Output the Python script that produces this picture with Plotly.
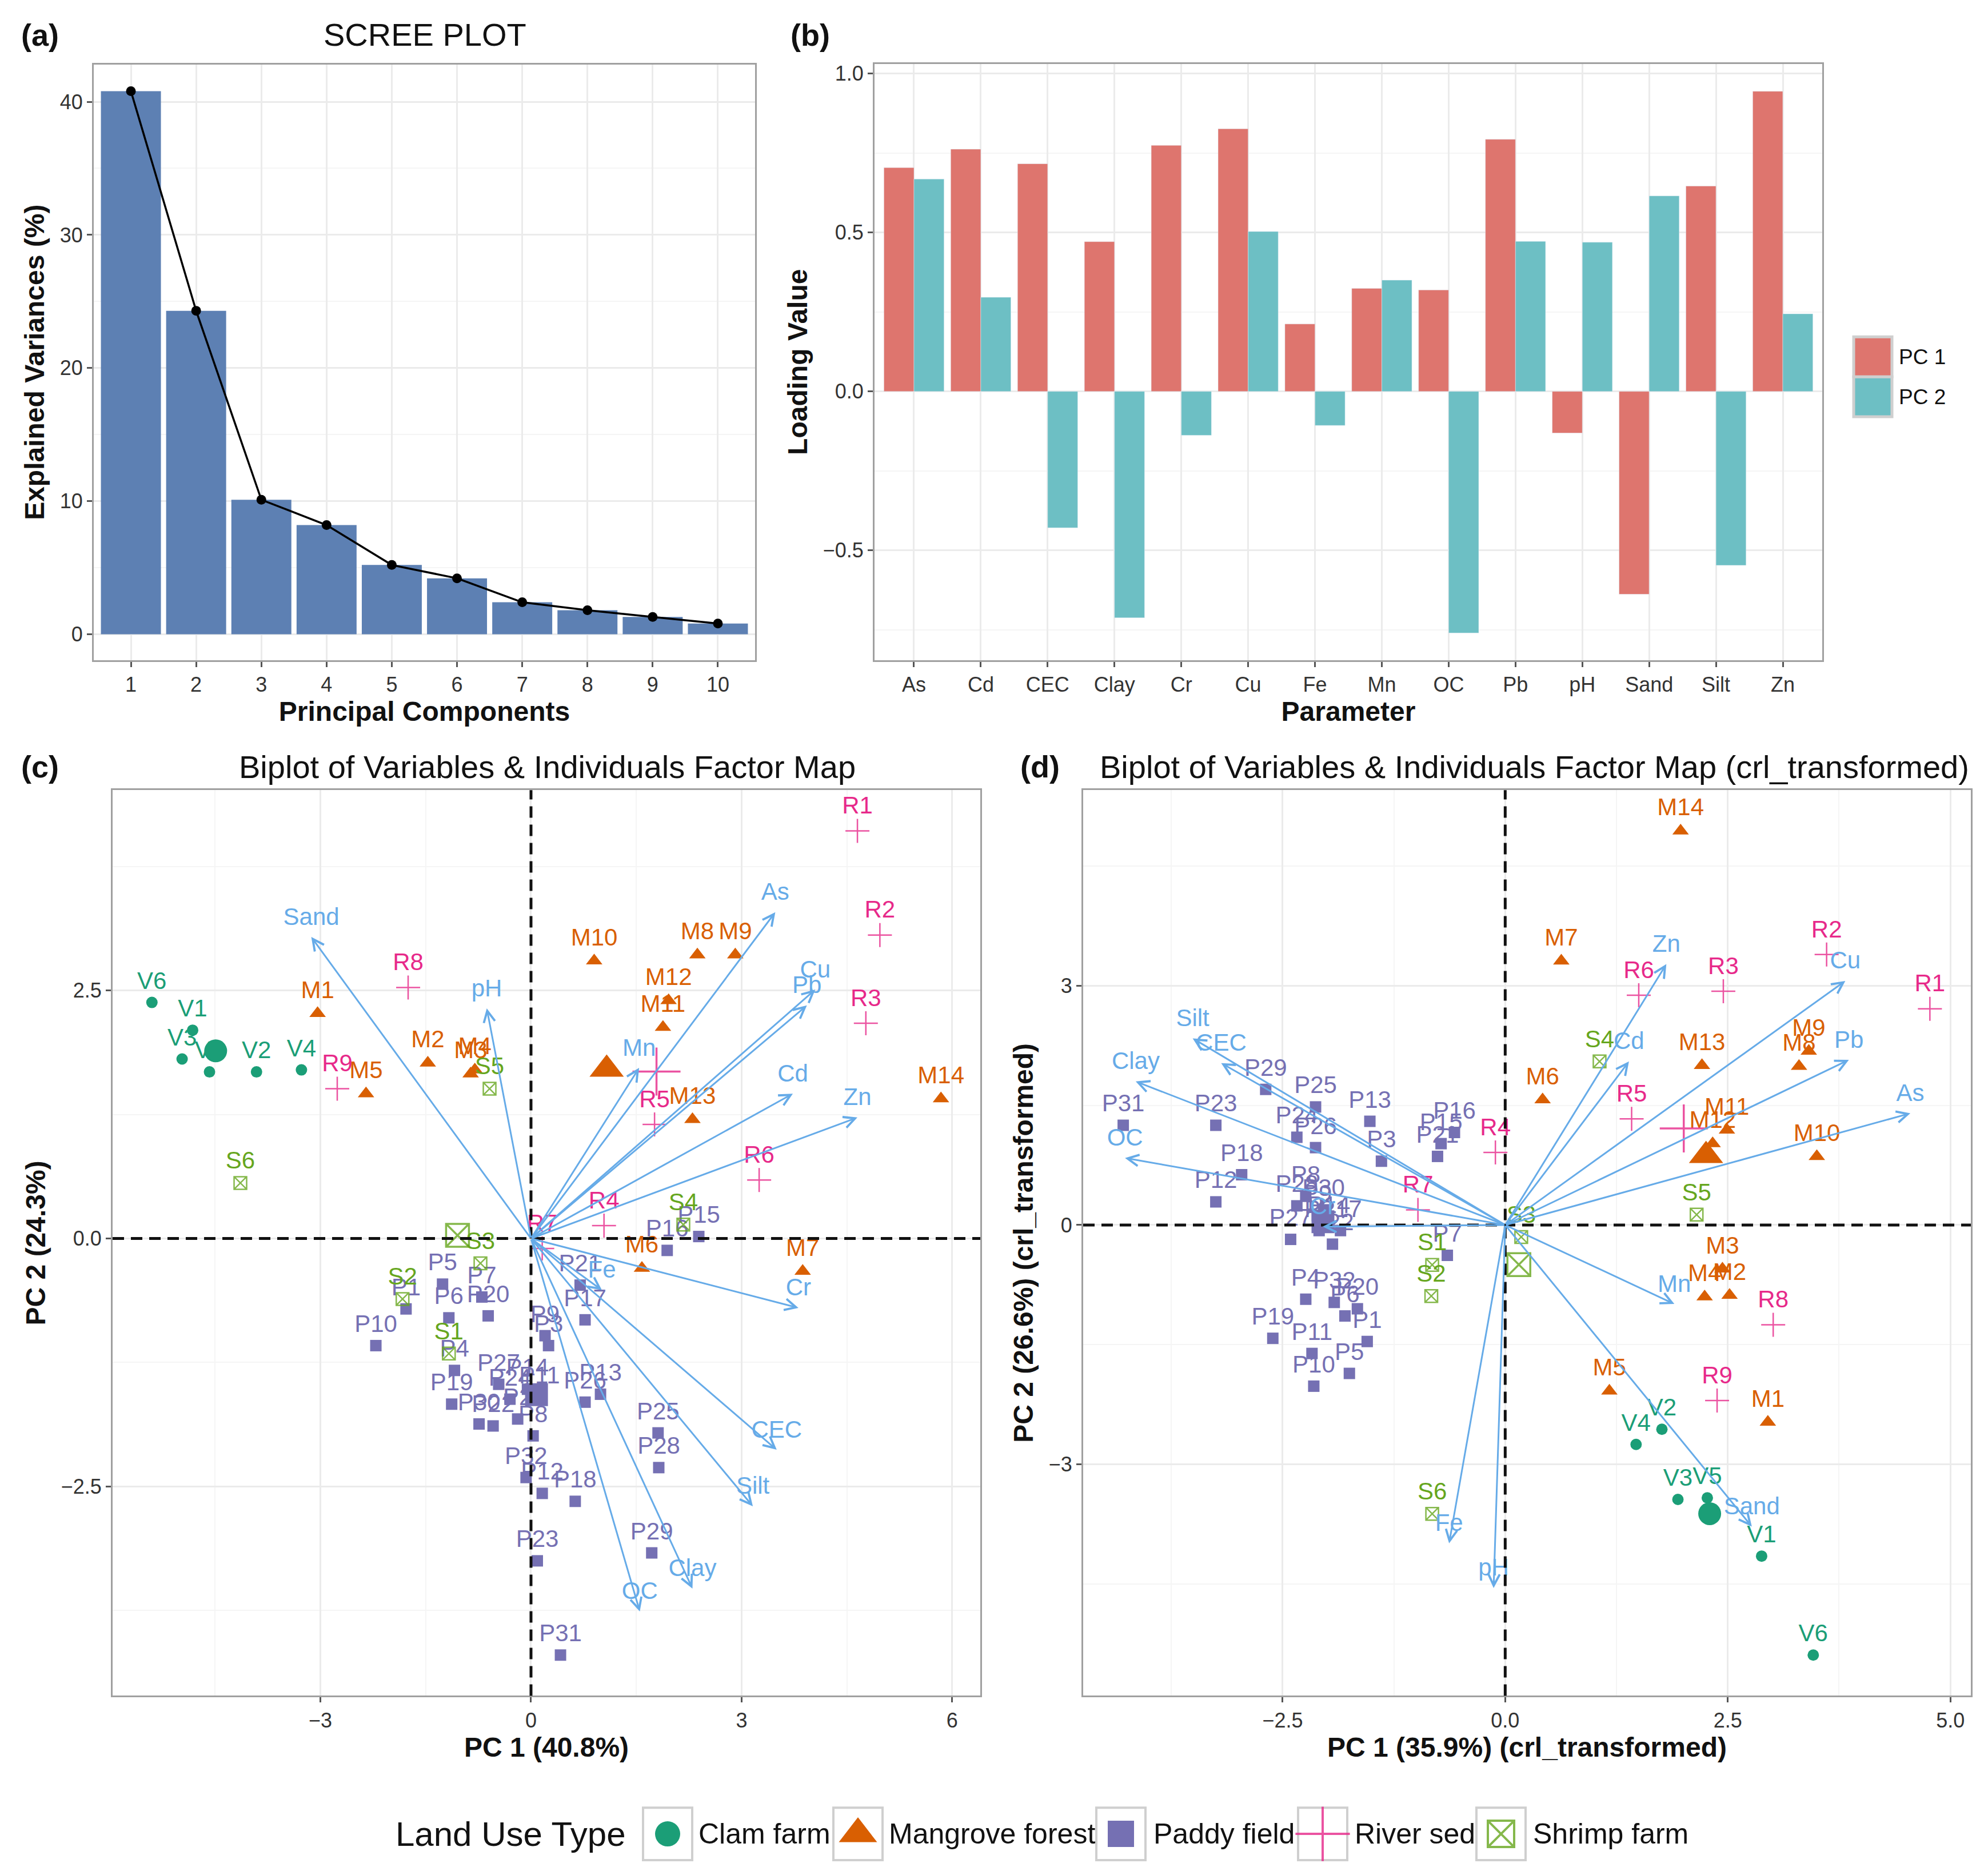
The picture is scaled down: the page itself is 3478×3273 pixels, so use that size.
import numpy as np
import plotly.graph_objects as go

W, H = 3478, 3273
FONT = "Liberation Sans"
BLUE = "#66ABE8"
BORDER = "#a0a0a0"
GRID = "#ebebeb"
GRID_MINOR = "#f5f5f5"
KEY_BORDER = "#cfcfcf"

# (a) scree plot
pc_num = list(range(1, 11))
explained = [40.8, 24.3, 10.1, 8.2, 5.2, 4.2, 2.4, 1.8, 1.3, 0.8]

# (b) loadings
params = ["As", "Cd", "CEC", "Clay", "Cr", "Cu", "Fe", "Mn", "OC", "Pb", "pH", "Sand", "Silt", "Zn"]
load_pc1 = [0.704, 0.762, 0.716, 0.471, 0.774, 0.826, 0.212, 0.324, 0.319, 0.793, -0.131, -0.638, 0.646, 0.944]
load_pc2 = [0.668, 0.296, -0.429, -0.712, -0.138, 0.503, -0.107, 0.350, -0.760, 0.472, 0.469, 0.615, -0.547, 0.244]

# (c) biplot, raw data
arrow_c_x = [3.48, 3.73, 3.50, 2.30, 3.81, 4.05, 1.01, 1.54, 1.55, 3.93, -0.63, -3.13, 3.16, 4.65]
arrow_c_y = [3.29, 1.46, -2.13, -3.53, -0.70, 2.51, -0.52, 1.72, -3.76, 2.35, 2.32, 3.04, -2.70, 1.22]

clam_names = ["V1", "V2", "V3", "V4", "V5", "V6"]
clam_c_x = [-4.82, -3.91, -4.97, -3.27, -4.58, -5.40]
clam_c_y = [2.10, 1.68, 1.81, 1.70, 1.68, 2.38]

mang_names = ["M%d" % i for i in range(1, 15)]
mang_c_x = [-3.04, -1.47, -0.86, -0.80, -2.35, 1.58, 3.87, 2.37, 2.91, 0.90, 1.88, 1.96, 2.30, 5.84]
mang_c_y = [2.27, 1.77, 1.66, 1.70, 1.46, -0.30, -0.33, 2.86, 2.86, 2.80, 2.13, 2.40, 1.20, 1.41]

paddy_names = ["P%d" % i for i in range(1, 33)]
paddy_c_x = [-1.78, -0.19, 0.25, -1.09, -1.26, -1.17, -0.70, 0.03, 0.20, -2.21,
             0.12, 0.16, 0.99, -0.05, 2.39, 1.94, 0.77, 0.63, -1.13, -0.61,
             0.70, -0.54, 0.09, -0.30, 1.81, 0.77, -0.46, 1.82, 1.72, -0.74, 0.42, -0.07]
paddy_c_y = [-0.71, -1.82, -1.08, -1.33, -0.46, -0.80, -0.59, -1.99, -0.98, -1.08,
             -1.60, -2.57, -1.57, -1.52, 0.02, -0.12, -0.82, -2.65, -1.67, -0.78,
             -0.47, -1.89, -3.25, -1.62, -1.96, -1.65, -1.47, -2.31, -3.17, -1.87, -4.20, -2.41]

river_names = ["R%d" % i for i in range(1, 10)]
river_c_x = [4.65, 4.97, 4.77, 1.04, 1.76, 3.25, 0.16, -1.75, -2.76]
river_c_y = [4.11, 3.06, 2.17, 0.13, 1.15, 0.59, -0.10, 2.53, 1.51]

shrimp_names = ["S1", "S2", "S3", "S4", "S5", "S6"]
shrimp_c_x = [-1.17, -1.83, -0.72, 2.17, -0.59, -4.14]
shrimp_c_y = [-1.16, -0.61, -0.25, 0.14, 1.51, 0.56]

# (d) biplot, crl transformed
arrow_d_x = [4.55, 1.39, -3.19, -4.15, -2.05, 3.82, -0.63, 1.90, -4.27, 3.86, -0.13, 2.77, -3.51, 1.81]
arrow_d_y = [1.40, 2.05, 2.03, 1.80, -0.02, 3.06, -3.99, -0.99, 0.84, 2.07, -4.55, -3.78, 2.34, 3.27]

clam_d_x = [2.88, 1.76, 1.94, 1.47, 2.27, 3.46]
clam_d_y = [-4.15, -2.56, -3.44, -2.75, -3.42, -5.39]

mang_d_x = [2.95, 2.52, 2.44, 2.24, 1.17, 0.42, 0.63, 3.30, 3.41, 3.50, 2.49, 2.33, 2.21, 1.97]
mang_d_y = [-2.47, -0.88, -0.55, -0.90, -2.08, 1.57, 3.31, 1.99, 2.18, 0.86, 1.19, 1.02, 2.00, 4.94]

paddy_d_x = [-1.55, -2.09, -1.39, -2.24, -1.75, -1.80, -0.65, -2.24, -2.11, -2.15,
             -2.17, -3.25, -1.52, -1.98, -0.72, -0.57, -1.85, -2.96, -2.61, -1.66,
             -0.76, -1.94, -3.25, -2.34, -2.13, -2.13, -2.41, -2.34, -2.69, -2.04, -4.29, -1.92]
paddy_d_y = [-1.46, -0.07, 0.80, -0.93, -1.86, -1.14, -0.38, 0.36, 0.12, -2.02,
             -1.61, 0.29, 1.30, -0.02, 1.02, 1.16, -0.07, 0.63, -1.42, -1.05,
             0.86, -0.24, 1.25, 1.10, 1.48, 0.97, -0.18, 0.24, 1.70, 0.19, 1.25, -0.97]

river_d_x = [4.77, 3.61, 2.45, -0.11, 1.42, 1.50, -0.98, 3.01, 2.38]
river_d_y = [2.71, 3.39, 2.93, 0.91, 1.33, 2.88, 0.19, -1.25, -2.20]

shrimp_d_x = [-0.82, -0.83, 0.18, 1.06, 2.15, -0.82]
shrimp_d_y = [-0.50, -0.89, -0.15, 2.05, 0.13, -3.62]

GROUPS = {
    "Clam farm": dict(color="#1B9E77", symbol="circle", size=20, big=40, key=44),
    "Mangrove forest": dict(color="#D95F02", symbol="triangle-up", size=25, big=52, key=58),
    "Paddy field": dict(color="#7570B3", symbol="square", size=20, big=40, key=46),
    "River sed": dict(color="#E7298A", symbol="cross-thin", size=30, big=60, key=68),
    "Shrimp farm": dict(color="#66A61E", symbol="square-x-open", size=22, big=40, key=46),
}

# bottom legend layout (pixel positions of the key boxes and labels)
KEY_CENTER_X = [1160, 1493, 1953, 2306, 2618]
KEY_TEXT_X = [1212, 1545, 2008, 2360, 2672]
KEY_Y = 3200


def dom_x(x0, x1):
    return [x0 / W, x1 / W]


def dom_y(y0, y1):
    return [1 - y1 / H, 1 - y0 / H]


def axis_style(**kw):
    d = dict(showline=True, mirror=True, linecolor=BORDER, linewidth=3,
             showgrid=True, gridcolor=GRID, gridwidth=3, zeroline=False,
             ticks="outside", ticklen=9, tickwidth=3, tickcolor="#555555",
             tickfont=dict(size=36, color="#333333", family=FONT),
             title_font=dict(size=48, color="#111111", family=FONT))
    d.update(kw)
    return d


def minor(tick0, dtick):
    return dict(tickmode="linear", tick0=tick0, dtick=dtick, showgrid=True,
                gridcolor=GRID_MINOR, gridwidth=2, ticks="")


def marker_for(grp, size, lw):
    st = GROUPS[grp]
    mk = dict(symbol=st["symbol"], size=size, color=st["color"])
    if st["symbol"] in ("cross-thin", "square-x-open"):
        mk["line"] = dict(color=st["color"], width=lw)
        mk["opacity"] = 0.8
    else:
        mk["line"] = dict(width=0)
    return mk


def add_group(fig, grp, xs, ys, names, xa, ya):
    st = GROUPS[grp]
    fig.add_trace(go.Scatter(x=xs, y=ys, mode="markers", name=grp,
                             marker=marker_for(grp, st["size"], 2.5), xaxis=xa, yaxis=ya))
    fig.add_trace(go.Scatter(x=xs, y=ys, mode="markers+text", text=names,
                             textposition="top center",
                             textfont=dict(size=42, color=st["color"], family=FONT),
                             marker=dict(size=st["size"], color="rgba(0,0,0,0)"),
                             xaxis=xa, yaxis=ya, hoverinfo="skip"))
    # group centroid
    fig.add_trace(go.Scatter(x=[np.mean(xs)], y=[np.mean(ys)], mode="markers",
                             marker=marker_for(grp, st["big"], 3.5),
                             xaxis=xa, yaxis=ya, hoverinfo="skip"))


def add_arrows(fig, tx, ty, xa, ya):
    for x, y in zip(tx, ty):
        fig.add_annotation(x=x, y=y, ax=0, ay=0, xref=xa, yref=ya, axref=xa, ayref=ya,
                           text="", showarrow=True, arrowhead=5, arrowsize=1.3,
                           arrowwidth=3, arrowcolor=BLUE)
    fig.add_trace(go.Scatter(x=tx, y=ty, mode="markers+text", text=params,
                             textposition="top center",
                             textfont=dict(size=42, color=BLUE, family=FONT),
                             marker=dict(size=16, color="rgba(0,0,0,0)"),
                             xaxis=xa, yaxis=ya, hoverinfo="skip"))


fig = go.Figure()

# (a)
fig.add_trace(go.Bar(x=pc_num, y=explained, marker=dict(color="#5D80B3", line=dict(width=0)),
                     width=0.92, xaxis="x", yaxis="y"))
fig.add_trace(go.Scatter(x=pc_num, y=explained, mode="lines+markers",
                         line=dict(color="black", width=3.5),
                         marker=dict(color="black", size=17), xaxis="x", yaxis="y"))

# (b)
PC_COLORS = ["#DE756E", "#6DBFC4"]
fig.add_trace(go.Bar(x=params, y=load_pc1, name="PC 1", marker=dict(color=PC_COLORS[0]),
                     xaxis="x2", yaxis="y2"))
fig.add_trace(go.Bar(x=params, y=load_pc2, name="PC 2", marker=dict(color=PC_COLORS[1]),
                     xaxis="x2", yaxis="y2"))

# (c)
add_group(fig, "Clam farm", clam_c_x, clam_c_y, clam_names, "x3", "y3")
add_group(fig, "Mangrove forest", mang_c_x, mang_c_y, mang_names, "x3", "y3")
add_group(fig, "Paddy field", paddy_c_x, paddy_c_y, paddy_names, "x3", "y3")
add_group(fig, "River sed", river_c_x, river_c_y, river_names, "x3", "y3")
add_group(fig, "Shrimp farm", shrimp_c_x, shrimp_c_y, shrimp_names, "x3", "y3")
add_arrows(fig, arrow_c_x, arrow_c_y, "x3", "y3")

# (d)
add_group(fig, "Clam farm", clam_d_x, clam_d_y, clam_names, "x4", "y4")
add_group(fig, "Mangrove forest", mang_d_x, mang_d_y, mang_names, "x4", "y4")
add_group(fig, "Paddy field", paddy_d_x, paddy_d_y, paddy_names, "x4", "y4")
add_group(fig, "River sed", river_d_x, river_d_y, river_names, "x4", "y4")
add_group(fig, "Shrimp farm", shrimp_d_x, shrimp_d_y, shrimp_names, "x4", "y4")
add_arrows(fig, arrow_d_x, arrow_d_y, "x4", "y4")

# dashed zero lines on the biplots
for xa, ya in (("x3", "y3"), ("x4", "y4")):
    dash = dict(color="#111111", width=5, dash="20px,12px")
    fig.add_shape(type="line", xref=xa, yref=ya + " domain", x0=0, x1=0, y0=0, y1=1, line=dash)
    fig.add_shape(type="line", xref=xa + " domain", yref=ya, x0=0, x1=1, y0=0, y1=0, line=dash)

# bottom legend (ggplot style key boxes)
for grp, cx, tx in zip(GROUPS, KEY_CENTER_X, KEY_TEXT_X):
    fig.add_shape(type="rect", xref="x5", yref="y5", x0=cx - 43, x1=cx + 43,
                  y0=KEY_Y - 46, y1=KEY_Y + 46, layer="below",
                  line=dict(color=KEY_BORDER, width=4), fillcolor="white")
    fig.add_trace(go.Scatter(x=[cx], y=[KEY_Y], mode="markers",
                             marker=marker_for(grp, GROUPS[grp]["key"], 4),
                             xaxis="x5", yaxis="y5", hoverinfo="skip"))
    fig.add_annotation(text=grp, x=tx, y=KEY_Y, xref="x5", yref="y5", showarrow=False,
                       xanchor="left", yanchor="middle",
                       font=dict(size=50, family=FONT, color="#111111"))
fig.add_annotation(text="Land Use Type", x=682, y=KEY_Y, xref="x5", yref="y5",
                   showarrow=False, xanchor="left", yanchor="middle",
                   font=dict(size=60, family=FONT, color="#111111"))

# legend of panel (b)
for i, (lab, col) in enumerate(zip(["PC 1", "PC 2"], PC_COLORS)):
    y0 = 578 + 70 * i
    fig.add_shape(type="rect", xref="paper", yref="paper",
                  x0=3235 / W, x1=3302 / W, y0=1 - (y0 + 70) / H, y1=1 - y0 / H,
                  line=dict(color=KEY_BORDER, width=5), fillcolor=col)
    fig.add_annotation(text=lab, x=3312 / W, y=1 - (y0 + 35) / H, xref="paper", yref="paper",
                       showarrow=False, xanchor="left", yanchor="middle",
                       font=dict(size=37, family=FONT, color="#111111"))

hidden = dict(visible=False, showgrid=False, zeroline=False, fixedrange=True)

fig.update_layout(
    width=W, height=H, margin=dict(l=0, r=0, t=0, b=0),
    paper_bgcolor="white", plot_bgcolor="white", showlegend=False,
    font=dict(family=FONT, color="#111111"),
    barmode="group", bargap=0.1, bargroupgap=0,
    xaxis=axis_style(domain=dom_x(156, 1313), anchor="y", range=[0.43, 10.57],
                     tickmode="array", tickvals=pc_num,
                     title=dict(text="<b>Principal Components</b>", standoff=4)),
    yaxis=axis_style(domain=dom_y(101, 1144), anchor="x", range=[-1.94, 42.8],
                     tickmode="array", tickvals=[0, 10, 20, 30, 40], minor=minor(5, 10),
                     title=dict(text="<b>Explained Variances (%)</b>", standoff=12)),
    xaxis2=axis_style(domain=dom_x(1522, 3180), anchor="y2", type="category",
                      range=[-0.59, 13.59],
                      title=dict(text="<b>Parameter</b>", standoff=4)),
    yaxis2=axis_style(domain=dom_y(100, 1144), anchor="x2", range=[-0.845, 1.03],
                      tickmode="array", tickvals=[-0.5, 0, 0.5, 1.0],
                      ticktext=["\u22120.5", "0.0", "0.5", "1.0"], minor=minor(0.25, 0.5),
                      title=dict(text="<b>Loading Value</b>", standoff=12)),
    xaxis3=axis_style(domain=dom_x(189, 1707), anchor="y3", range=[-5.96, 6.40],
                      tickmode="array", tickvals=[-3, 0, 3, 6],
                      ticktext=["\u22123", "0", "3", "6"], minor=minor(1.5, 3),
                      title=dict(text="<b>PC 1 (40.8%)</b>", standoff=6)),
    yaxis3=axis_style(domain=dom_y(1372, 2958), anchor="x3", range=[-4.61, 4.52],
                      tickmode="array", tickvals=[-2.5, 0, 2.5],
                      ticktext=["\u22122.5", "0.0", "2.5"], minor=minor(1.25, 2.5),
                      title=dict(text="<b>PC 2 (24.3%)</b>", standoff=12)),
    xaxis4=axis_style(domain=dom_x(1887, 3440), anchor="y4", range=[-4.74, 5.23],
                      tickmode="array", tickvals=[-2.5, 0, 2.5, 5.0],
                      ticktext=["\u22122.5", "0.0", "2.5", "5.0"], minor=minor(1.25, 2.5),
                      title=dict(text="<b>PC 1 (35.9%) (crl_transformed)</b>", standoff=6)),
    yaxis4=axis_style(domain=dom_y(1372, 2958), anchor="x4", range=[-5.90, 5.45],
                      tickmode="array", tickvals=[-3, 0, 3],
                      ticktext=["\u22123", "0", "3"], minor=minor(1.5, 3),
                      title=dict(text="<b>PC 2 (26.6%) (crl_transformed)</b>", standoff=12)),
    xaxis5=dict(hidden, domain=[0, 1], anchor="y5", range=[0, W]),
    yaxis5=dict(hidden, domain=dom_y(3130, 3273), anchor="x5", range=[3273, 3130]),
)

# panel letters and titles
for txt, px, py in [("(a)", 62, 49), ("(b)", 1409, 49), ("(c)", 62, 1331), ("(d)", 1811, 1331)]:
    fig.add_annotation(text="<b>%s</b>" % txt, x=px / W, y=1 - py / H, xref="paper", yref="paper",
                       showarrow=False, xanchor="center", yanchor="middle",
                       font=dict(size=54, family=FONT, color="#111111"))

titles = [("SCREE PLOT", 735, 49),
          ("Biplot of Variables & Individuals Factor Map", 950, 1331),
          ("Biplot of Variables & Individuals Factor Map (crl_transformed)", 2676, 1331)]
for txt, px, py in titles:
    fig.add_annotation(text=txt, x=px / W, y=1 - py / H, xref="paper", yref="paper",
                       showarrow=False, xanchor="center", yanchor="middle",
                       font=dict(size=56, family=FONT, color="#111111"))

fig.write_html("out.html")
